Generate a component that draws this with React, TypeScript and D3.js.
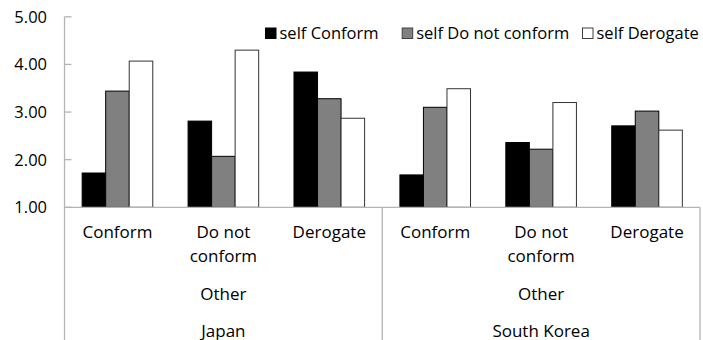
import React from "react";
import * as d3 from "d3";

const categories = ["Conform", "Do not conform", "Derogate", "Conform", "Do not conform", "Derogate"];
const countries = ["Japan", "South Korea"];
const groupLabel = "Other";
const seriesNames = ["self Conform", "self Do not conform", "self Derogate"];
const selfConform = [1.72, 2.81, 3.84, 1.68, 2.36, 2.71];
const selfDoNotConform = [3.44, 2.07, 3.28, 3.10, 2.22, 3.02];
const selfDerogate = [4.07, 4.30, 2.87, 3.49, 3.20, 2.62];
const yTicks = [1, 2, 3, 4, 5];

const fills = ["#000000", "#808080", "#ffffff"];
const strokes = ["#000000", "#000000", "#333333"];
const axisColor = "#b4b4b4";
const FONT = "'Open Sans', sans-serif";

export default function App() {
  const W = 703, H = 340;
  const x0 = 64.5, x1 = 700;
  const y = d3.scaleLinear().domain([1, 5]).range([207.3, 16.8]);
  const idx = categories.map((_, i) => i);
  const x = d3.scaleBand<number>().domain(idx).range([x0, x1]).paddingInner(0).paddingOuter(0);
  const xs = d3.scaleBand<number>().domain([0, 1, 2]).range([0, x.bandwidth()]).paddingInner(0).paddingOuter(0.75);
  const series = [selfConform, selfDoNotConform, selfDerogate];
  const groupW = (x1 - x0) / countries.length;

  const legendX = [265, 401.7, 582];

  return (
    <div style={{ position: "absolute", left: 0, top: 0 }}>
      <svg width={W} height={H} style={{ display: "block", background: "#fff" }} fontFamily={FONT}>
        {yTicks.map((t) => (
          <text key={"yt" + t} x={47} y={y(t) + 6} textAnchor="end" fontSize={16.5} fill="#000">
            {d3.format(".2f")(t)}
          </text>
        ))}
        {yTicks.map((t) => (
          <line key={"tk" + t} x1={x0} x2={x0 + 7} y1={y(t)} y2={y(t)} stroke={axisColor} strokeWidth={1.3} />
        ))}
        {series.map((vals, s) =>
          vals.map((v, i) => (
            <rect
              key={`b${s}-${i}`}
              x={(x(i) as number) + (xs(s) as number)}
              y={y(v)}
              width={xs.bandwidth()}
              height={y(1) - y(v)}
              fill={fills[s]}
              stroke={strokes[s]}
              strokeWidth={1}
            />
          ))
        )}
        <line x1={x0} x2={x0} y1={y(5)} y2={H} stroke={axisColor} strokeWidth={1.3} />
        <line x1={x0} x2={x1} y1={y(1)} y2={y(1)} stroke={axisColor} strokeWidth={1.3} />
        {countries.map((c, k) => (
          <line key={"sep" + k} x1={x0 + groupW * (k + 1)} x2={x0 + groupW * (k + 1)} y1={y(1)} y2={H} stroke={axisColor} strokeWidth={1.3} />
        ))}
        {categories.map((c, i) => {
          const cx = (x(i) as number) + x.bandwidth() / 2;
          const lines = c === "Do not conform" ? ["Do not", "conform"] : [c];
          return (
            <text key={"cl" + i} x={cx} textAnchor="middle" fontSize={17} fill="#000">
              {lines.map((l, j) => (
                <tspan key={j} x={cx} y={238.3 + j * 24}>{l}</tspan>
              ))}
            </text>
          );
        })}
        {countries.map((c, k) => {
          const cx = x0 + groupW * (k + 0.5);
          return (
            <g key={"cg" + k}>
              <text x={cx} y={300} textAnchor="middle" fontSize={17} fill="#000">{groupLabel}</text>
              <text x={cx} y={336.5} textAnchor="middle" fontSize={17} fill="#000">{c}</text>
            </g>
          );
        })}
        {seriesNames.map((n, s) => (
          <g key={"lg" + s}>
            <rect x={legendX[s] + 0.5} y={28} width={10.5} height={10.5} fill={fills[s]} stroke={s === 0 ? "#000" : "#404040"} strokeWidth={1} />
            <text x={legendX[s] + 14.5} y={38.7} fontSize={16.5} fill="#000">{n}</text>
          </g>
        ))}
      </svg>
    </div>
  );
}
